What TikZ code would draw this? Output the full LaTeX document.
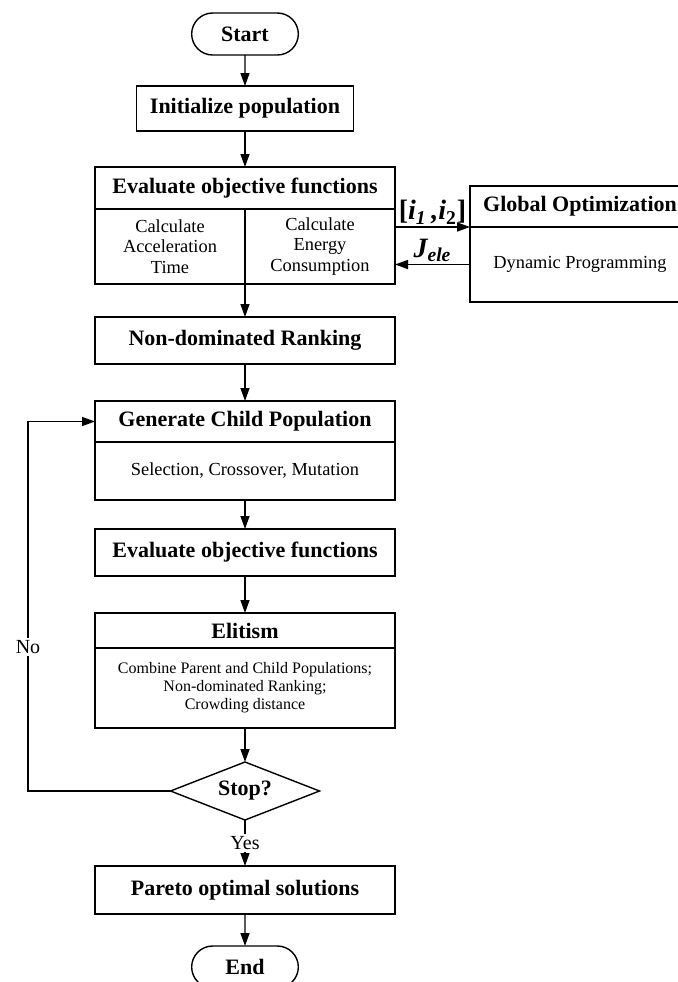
\documentclass[tikz,border=0pt]{standalone}
\usepackage{fontspec}
\setmainfont{Liberation Serif}
\usetikzlibrary{shapes.geometric, shapes.misc, arrows.meta, positioning}
\newcommand{\headfont}{\fontsize{11}{13}\selectfont\bfseries}
\newcommand{\bodyfont}{\fontsize{9.2}{10.3}\selectfont}
\newcommand{\smallbodyfont}{\fontsize{8}{9}\selectfont}
\tikzset{
    box/.style={
        rectangle, draw=black, line width=0.7pt, fill=white, outer sep=0pt,
        text centered, minimum width=150pt, inner sep=2pt, font=\headfont
    },
    headbox/.style={box},
    bodybox/.style={box, align=center, font=\bodyfont},
    terminal/.style={
        rounded rectangle, draw=black, line width=0.7pt, outer sep=0pt,
        minimum width=60pt, minimum height=21pt, font=\headfont
    },
    decision/.style={
        diamond, draw=black, line width=0.7pt, inner sep=0pt, aspect=2.6, outer sep=0pt,
        minimum width=74.5pt, minimum height=29pt, font=\headfont
    },
    flow/.style={draw=black, line width=0.7pt, -{Triangle[length=6.5pt, width=4.5pt]}},
    label/.style={font=\fontsize{10}{12}\selectfont},
    varlabel/.style={font=\fontsize{14}{16}\selectfont\bfseries\itshape, inner sep=1pt}
}
\begin{document}
\begin{tikzpicture}[x=0.5pt, y=-0.5pt]
\useasboundingbox (0,0) rectangle (677,982);

% Main column
\node[terminal] (start) at (245,34) {Start};
\node[box, minimum width=108.5pt, minimum height=22.5pt, below=15.5pt of start] (init) {Initialize population};

% Evaluation with two cells
\node[headbox, minimum height=21pt, below=18pt of init] (evalhead) {Evaluate objective functions};
\node[bodybox, minimum width=75pt, minimum height=37.5pt, anchor=north west] (evalL) at (evalhead.south west) {Calculate\\Acceleration\\Time};
\node[bodybox, minimum width=75pt, minimum height=37.5pt, right=0pt of evalL] (evalR) {Calculate\\Energy\\Consumption};

% Right: global optimization
\node[headbox, minimum width=110pt, minimum height=20.5pt, right=37.5pt of evalhead.north east, anchor=north west, yshift=-9.5pt] (globhead) {Global Optimization};
\node[bodybox, minimum width=110pt, minimum height=37.5pt, below=0pt of globhead] (globbody) {Dynamic Programming};

\node[box, minimum height=23.5pt, below=16.5pt of evalL.south east] (rank) {Non-dominated Ranking};
\node[headbox, minimum height=20.5pt, below=18.5pt of rank] (genhead) {Generate Child Population};
\node[bodybox, minimum height=29pt, below=0pt of genhead] (genbody) {Selection, Crossover, Mutation};
\node[box, minimum height=23.5pt, below=14.5pt of genbody] (eval2) {Evaluate objective functions};
\node[headbox, minimum height=17.5pt, below=18.5pt of eval2] (elithead) {Elitism};
\node[bodybox, font=\smallbodyfont, minimum height=40pt, below=0pt of elithead] (elitbody) {Combine Parent and Child Populations;\\Non-dominated Ranking;\\Crowding distance};
\node[decision, below=17pt of elitbody] (stop) {Stop?};
\node[box, minimum height=24pt, below=23pt of stop] (pareto) {Pareto optimal solutions};
\node[terminal, below=16pt of pareto] (end) {End};

\coordinate (loop) at (28,0);

% Flow
\draw[flow] (start) -- (init);
\draw[flow] (init) -- (evalhead);
\draw[flow] (evalL.south east) -- (rank);
\draw[flow] (rank) -- (genhead);
\draw[flow] (genbody) -- (eval2);
\draw[flow] (eval2) -- (elithead);
\draw[flow] (elitbody) -- (stop);
\draw[flow] (stop) -- node[label, fill=white, inner sep=1pt] {Yes} (pareto);
\draw[flow] (pareto) -- (end);
\draw[flow] (stop.west) -- (stop.west -| loop) -- node[label, fill=white, inner sep=1pt, pos=0.39] {No} (loop |- genhead.west) -- (genhead.west);

% Exchange with global optimization
\draw[flow] (evalR.east |- globbody.north) -- node[varlabel, above] {{\upshape[}i\textsubscript{1}\,,i\textsubscript{\upshape 2}{\upshape]}} (globbody.north west);
\draw[flow] (globbody.west) -- node[varlabel, above] {J\textsubscript{ele}} (globbody.west -| evalR.east);

\end{tikzpicture}
\end{document}
